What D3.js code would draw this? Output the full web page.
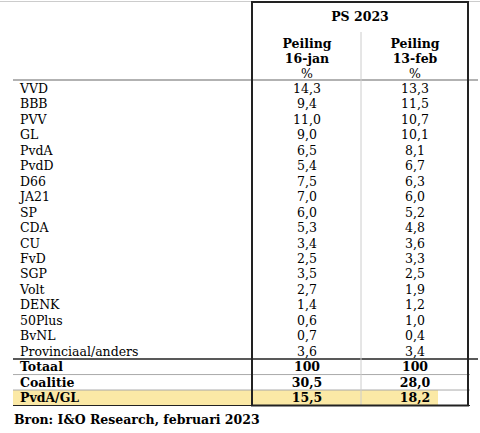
<!DOCTYPE html><html><head><meta charset="utf-8"><script src="https://cdn.jsdelivr.net/npm/d3@7"></script>
<style>body{margin:0;background:#fff}</style></head><body><script>
const parties=["VVD","BBB","PVV","GL","PvdA","PvdD","D66","JA21","SP","CDA","CU","FvD","SGP","Volt","DENK","50Plus","BvNL","Provinciaal/anders","Totaal","Coalitie","PvdA/GL"];
const jan=["14,3","9,4","11,0","9,0","6,5","5,4","7,5","7,0","6,0","5,3","3,4","2,5","3,5","2,7","1,4","0,6","0,7","3,6","100","30,5","15,5"];
const feb=["13,3","11,5","10,7","10,1","8,1","6,7","6,3","6,0","5,2","4,8","3,6","3,3","2,5","1,9","1,2","1,0","0,4","3,4","100","28,0","18,2"];
const colHeads=[["Peiling","16-jan","%"],["Peiling","13-feb","%"]];
const W=480,H=433,F="'DejaVu Serif','Liberation Serif',serif";
const svg=d3.select("body").append("svg").attr("width",W).attr("height",H).style("font-family",F);
const y=d3.scaleBand().domain(parties).range([80.5,405.5]);
const x=d3.scaleBand().domain(["jan","feb"]).range([253,469]);
const bold=new Set(["Totaal","Coalitie","PvdA/GL"]);
svg.append("rect").attr("x",13).attr("y",y("PvdA/GL")).attr("width",438-13).attr("height",y.bandwidth()).attr("fill","#fbe9a6");
svg.append("line").attr("x1",0).attr("x2",W).attr("y1",1.5).attr("y2",1.5).attr("stroke","#ccc");
svg.append("line").attr("x1",13).attr("x2",478).attr("y1",80).attr("y2",80).attr("stroke","#999").attr("stroke-width",1.5);
const sep=["Totaal","Coalitie","PvdA/GL"];
for(let i=0;i<sep.length;i++){
 svg.append("line").attr("x1",13).attr("x2",i==0?478:470).attr("y1",y(sep[i])).attr("y2",y(sep[i])).attr("stroke",i==0?"#222":"#aaa").attr("stroke-width",i==0?1.5:1);
}
svg.append("line").attr("x1",13).attr("x2",470).attr("y1",405.5).attr("y2",405.5).attr("stroke","#222");
svg.append("line").attr("x1",x("feb")).attr("x2",x("feb")).attr("y1",32).attr("y2",405).attr("stroke","#ccc");
svg.append("rect").attr("x",252).attr("y",2).attr("width",216).attr("height",403.5).attr("fill","none").attr("stroke","#222").attr("stroke-width",2);
svg.append("text").attr("x",360).attr("y",21).attr("text-anchor","middle").attr("font-weight","bold").attr("font-size",12.5).text("PS 2023");
const keys=["jan","feb"];
for(let i=0;i<2;i++){const cx=x(keys[i])+x.bandwidth()/2;
 for(let j=0;j<3;j++) svg.append("text").attr("x",cx).attr("y",[48,63,78][j]).attr("text-anchor","middle").attr("font-weight",j<2?"bold":"normal").attr("font-size",12.5).text(colHeads[i][j]);}
for(let i=0;i<parties.length;i++){
 const name=parties[i];
 const ty=y(name)+y.bandwidth()/2+4.5;
 const fw=bold.has(name)?"bold":"normal";
 svg.append("text").attr("x",20).attr("y",ty).attr("font-size",12.5).attr("font-weight",fw).text(name);
 svg.append("text").attr("x",x("jan")+x.bandwidth()/2).attr("y",ty).attr("text-anchor","middle").attr("font-size",12.5).attr("font-weight",fw).text(jan[i]);
 svg.append("text").attr("x",x("feb")+x.bandwidth()/2).attr("y",ty).attr("text-anchor","middle").attr("font-size",12.5).attr("font-weight",fw).text(feb[i]);
}
svg.append("text").attr("x",14).attr("y",424).attr("font-size",12.5).attr("font-weight","bold").text("Bron: I&O Research, februari 2023");
</script></body></html>
